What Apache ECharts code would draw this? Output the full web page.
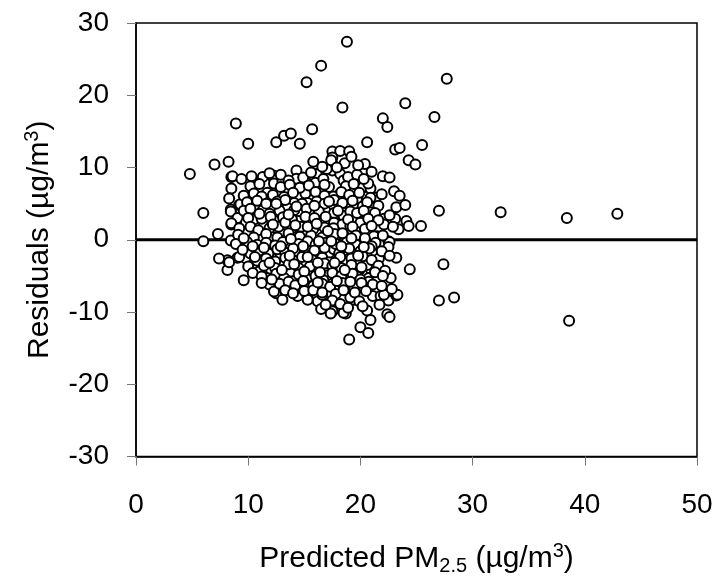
<!DOCTYPE html>
<html>
<head>
<meta charset="utf-8">
<script src="https://cdn.jsdelivr.net/npm/echarts@6/dist/echarts.min.js"></script>
<style>html,body{margin:0;padding:0;background:#fff;}#c{width:717px;height:581px;}</style>
</head>
<body>
<div id="c"></div>
<script>
// [predicted PM2.5, residual]
var points = [
[18.8,27.4],[16.5,24.1],[15.2,21.8],[18.4,18.3],[24.0,18.9],[22.0,16.8],[22.4,15.6],[8.9,16.1],[10.0,13.3],[12.5,13.5],
[13.2,14.4],[13.8,14.7],[14.6,13.3],[15.7,15.3],[20.6,13.5],[25.5,13.1],[23.1,12.5],[23.5,12.7],[24.3,11.0],[24.9,10.4],
[20.4,10.5],[17.5,12.2],[18.2,12.3],[19.0,12.25],[17.5,11.4],[17.5,10.5],[17.5,9.6],[7.0,10.4],[8.25,10.8],[4.8,9.1],
[6.0,3.7],[7.3,0.8],[6.0,-0.2],[25.4,1.9],[8.5,8.7],[8.5,7.1],[8.3,5.7],[8.45,4.2],[9.2,4.8],[8.5,2.1],
[11.3,8.7],[12.2,8.7],[14.3,9.6],[16.1,9.1],[18.2,9.1],[22.0,8.8],[22.6,8.6],[20.2,7.2],[20.9,7.1],[21.35,5.8],
[23.0,6.7],[23.5,6.1],[23.2,4.5],[24.0,4.8],[22.1,2.9],[23.1,2.9],[24.1,2.6],[23.4,1.45],[24.3,1.9],[21.5,0.5],[22.5,-0.2],
[26.6,17.0],[27.7,22.3],[27.0,4.0],[32.5,3.8],[38.4,3.0],[42.9,3.6],[38.6,-11.2],[27.4,-3.4],[24.4,-4.1],[27.0,-8.4],[28.35,-8.0],
[20.7,7.8],[20.9,5.8],[19.7,5.7],[20.2,4.6],[20.9,3.8],[20.3,2.6],[19.6,1.45],[18.5,8.2],[18.1,6.2],[18.7,5.1],
[17.9,4.4],[18.7,3.3],[17.8,2.3],[18.8,1.2],[22.1,2.1],[21.2,0.5],
[22.6,-0.3],[22.5,-1.0],[21.35,-0.4],[20.5,-0.4],[23.2,-2.5],[22.7,-5.3],[21.65,-2.6],[20.9,-4.0],[20.75,-5.3],[21.5,-5.3],
[21.1,-7.8],[21.8,-7.8],[22.5,-8.4],[23.2,-7.7],[20.6,-9.8],[20.9,-11.1],[22.4,-10.3],[22.6,-10.7],[20.0,-12.1],[20.7,-12.9],
[19.0,-13.8],[17.5,-9.9],[18.7,-10.2],[19.4,-8.3],[19.1,-8.0],[17.8,-6.7],[19.3,-6.7],
[8.15,-2.85],[9.05,-2.5],[9.8,-2.6],[8.15,-4.2],[9.6,-5.6],[10.5,-3.3],[11.0,-4.4],[11.7,-5.3],[11.9,-6.2],[12.5,-7.4],
[13.05,-8.3],[13.9,-6.9],[14.7,-6.7],[15.3,-8.0],[16.2,-8.5],[16.5,-9.6],[17.35,-10.2],[16.6,-7.6],[15.6,-4.9],[15.0,-3.1],
[16.2,-4.0],[17.05,-4.9],[17.65,-4.0],[13.8,-4.4],[12.9,-3.5],[12.0,-4.0],[12.0,-1.5],[12.9,-2.2],[13.6,-0.6],[14.4,-1.7],
[15.4,-1.5],[16.5,-1.3],[17.35,-1.9],[11.1,-2.4],[10.2,-1.9],[9.3,-0.4],[8.45,-0.1],
[7.4,-2.6],[8.3,-3.1],[9.2,-2.4],[12.3,-7.15],[14.4,-7.8],[15.3,-8.3],[18.5,-10.1],[22.1,-7.6],[23.3,-7.6],
[8.6,8.8],[9.3,4.9],[8.45,3.9],[9.05,3.0],[8.5,2.3],[9.8,2.35],[10.7,3.3],[11.3,4.1],[12.2,4.4],[12.25,8.9],
[12.3,7.8],[13.05,8.1],[11.7,6.5],[12.75,6.4],[13.6,6.9],[14.3,8.45],[15.3,7.8],[16.0,7.9],[14.4,6.0],[15.1,6.4],
[14.1,5.1],[15.3,5.1],[16.3,6.0],[13.5,4.4],[14.7,3.7],[15.7,3.9],[16.9,4.2],[17.6,4.8],[17.2,7.3],[17.6,6.0],
[10.5,2.8],[11.4,1.9],[12.45,2.6],[13.5,1.9],[14.5,2.6],[15.6,2.35],[16.5,2.8],[17.35,2.6],[9.9,1.0],[11.0,0.5],
[12.0,0.5],[13.05,0.8],[14.1,0.5],[15.1,1.0],[16.2,1.0],[17.05,0.5],[18.1,1.45],
[17.65,5.5],[18.4,5.1],[17.65,3.7],[18.5,3.3],[19.1,3.9],[19.7,3.7],[17.65,2.35],[18.4,2.1],[19.1,1.9],[20.0,2.35],
[17.65,-1.3],[18.5,-1.5],[19.4,-1.7],[17.8,-2.85],[18.7,-3.1],[19.7,-2.85],[20.6,-3.5],[17.95,-4.0],[19.0,-4.4],[19.9,-4.2],
[17.95,-5.3],[18.8,-5.3],[19.7,-5.1],[17.65,-6.7],[19.4,-6.5],[20.3,-6.7],[20.75,-5.8],
[9.4,8.4],[10.3,8.8],[11.9,9.2],[12.9,9.0],[13.6,8.2],[14.9,8.6],[15.6,9.3],[16.7,8.4],[17.0,9.8],[18.9,8.7],
[19.7,9.0],[20.3,8.4],[21.0,9.4],[17.4,11.0],[18.6,10.6],[19.2,11.5],[16.6,10.1],[17.9,10.0],[19.8,10.3],[15.8,10.8],
[10.2,7.4],[11.0,7.7],[12.9,7.3],[13.7,7.6],[14.6,7.2],[15.4,7.5],[16.8,7.6],[18.7,7.4],[19.4,7.7],
[9.6,6.1],[10.5,6.4],[11.2,6.0],[12.2,6.2],[13.2,5.9],[14.0,6.5],[16.0,6.6],[16.8,6.1],[18.3,6.6],[19.0,6.2],[19.9,6.5],[21.9,6.3],
[9.9,5.2],[10.8,5.4],[11.6,5.0],[12.6,5.3],[13.3,5.5],[14.8,5.0],[16.1,5.3],[16.8,5.0],[19.3,5.4],[20.6,5.2],[21.6,4.7],
[9.6,4.0],[10.2,4.3],[11.9,3.6],[12.8,4.0],[14.1,4.1],[15.2,4.3],[16.3,3.9],[18.0,4.0],[20.3,4.0],[21.3,3.7],[22.6,3.4],
[10.0,3.0],[11.2,2.9],[12.0,3.2],[13.1,3.1],[13.9,2.8],[15.1,3.2],[15.9,3.0],[16.9,3.2],[18.9,2.8],[20.7,2.9],[21.6,2.7],
[9.2,1.6],[10.2,1.8],[10.9,1.3],[11.9,1.6],[12.7,1.8],[13.9,1.6],[14.7,1.8],[15.8,1.5],[16.8,1.7],[17.6,1.6],[19.3,1.8],[20.4,1.5],[21.0,1.9],[22.9,1.8],
[9.1,0.7],[10.5,0.3],[11.6,0.8],[12.6,0.3],[13.6,0.9],[14.6,0.4],[15.6,0.6],[16.6,0.3],[17.7,0.8],[18.6,0.4],[19.6,0.6],[20.4,0.2],[22.0,0.6],
[8.9,-0.6],[9.9,-0.3],[10.8,-0.7],[11.6,-0.4],[12.4,-0.8],[13.1,-0.3],[14.5,-0.6],[15.3,-0.2],[16.0,-0.7],[16.9,-0.4],[17.8,-0.6],[18.8,-0.3],[19.6,-0.7],[21.0,-0.9],
[9.5,-1.4],[11.0,-1.5],[11.8,-1.9],[12.6,-1.3],[13.3,-1.8],[14.0,-1.2],[15.0,-1.9],[15.9,-1.5],[16.8,-1.1],[18.1,-1.9],[19.0,-1.2],[20.0,-1.6],[20.8,-1.2],[21.9,-1.6],
[10.8,-2.9],[11.6,-2.6],[12.4,-3.0],[13.3,-2.5],[14.1,-2.9],[14.8,-2.4],[15.7,-2.8],[16.6,-2.5],[17.2,-3.1],[18.2,-2.4],[19.2,-2.6],[20.2,-2.3],[21.0,-2.8],[22.6,-2.2],
[10.0,-3.7],[11.4,-3.6],[12.4,-3.9],[13.6,-3.4],[14.5,-3.9],[15.5,-3.7],[16.8,-3.3],[17.5,-3.6],[18.3,-3.9],[19.2,-3.5],[20.1,-3.8],[21.6,-3.6],[22.2,-4.3],
[10.4,-4.6],[11.2,-5.1],[12.5,-4.7],[13.2,-5.3],[14.5,-4.8],[15.2,-5.4],[16.0,-5.0],[16.7,-5.6],[17.5,-4.6],[18.3,-5.0],[19.3,-4.7],[20.0,-5.5],[21.3,-4.5],[22.0,-5.0],
[11.2,-6.0],[12.8,-6.1],[13.6,-5.8],[14.2,-6.3],[15.0,-6.0],[15.8,-6.4],[16.6,-6.1],[17.3,-6.5],[18.4,-6.0],[19.1,-5.8],[20.1,-6.0],[21.1,-6.2],[21.9,-6.4],
[13.3,-7.0],[14.0,-7.4],[15.0,-7.1],[15.8,-7.0],[16.6,-7.3],[17.8,-7.5],[18.5,-7.0],[19.5,-7.3],[20.5,-7.1],[22.8,-6.8],
[17.5,-8.4],[18.2,-8.9],[19.9,-8.5],[20.2,-9.2],[21.7,-9.0],[18.9,-9.4],[16.9,-9.0],
[12.2,2.1],[13.3,2.4],[14.2,2.0],[15.3,1.8],[16.1,2.2],[17.1,1.2],[18.4,0.9],[19.2,0.2],[13.8,0.1],[12.9,-0.9],
[14.9,-0.9],[16.3,-0.2],[17.4,-0.2],[18.3,-0.9],[19.8,-2.2],[11.4,-1.1],[13.7,-2.2],[15.3,-2.4],[16.2,-3.2],[17.7,-3.2],
[14.1,-3.4],[13.0,-4.2],[15.0,-4.4],[16.4,-4.5],[18.6,-4.2],[12.1,-5.5],[14.9,-5.7],[16.2,-5.9],[17.9,-5.7],[13.6,3.5],
[14.3,4.6],[15.9,4.7],[17.2,5.3],[12.5,5.0],[11.0,3.6],[10.4,-0.9],[9.6,0.2],[10.6,-2.4],[11.9,-3.2],[20.3,-1.0]
];
var zeroLine = [[0,0],[50,0]];
var xTicks = [0,10,20,30,40,50];
var yTicks = [-30,-20,-10,0,10,20,30];

var FONT = '"Liberation Sans", Arial, sans-serif';
var chart = echarts.init(document.getElementById('c'));
chart.setOption({
  animation:false,
  backgroundColor:'#fff',
  grid:{left:136,right:20,top:23,bottom:115,show:true,borderColor:'#000',borderWidth:1.5,backgroundColor:'transparent'},
  xAxis:{
    type:'value',min:xTicks[0],max:xTicks[xTicks.length-1],interval:10,
    axisLine:{show:true,onZero:false,lineStyle:{color:'#000',width:1.5}},
    axisTick:{show:true,inside:false,length:9,lineStyle:{color:'#777',width:1}},
    splitLine:{show:false},
    axisLabel:{color:'#000',fontSize:28,fontFamily:FONT,margin:35},
    name:'{a|Predicted PM}{sub|2.5}{a| (µg/m}{sup|3}{a|)}',
    nameLocation:'middle',nameGap:84,
    nameTextStyle:{rich:{
      a:{fontSize:30,fontFamily:FONT,color:'#000',lineHeight:36},
      sub:{fontSize:20,fontFamily:FONT,color:'#000',padding:[15,0,0,0],lineHeight:36},
      sup:{fontSize:20,fontFamily:FONT,color:'#000',padding:[0,0,15,0],lineHeight:36}
    }}
  },
  yAxis:{
    type:'value',min:yTicks[0],max:yTicks[yTicks.length-1],interval:10,
    axisLine:{show:true,onZero:false,lineStyle:{color:'#000',width:1.5}},
    axisTick:{show:true,inside:false,length:9,lineStyle:{color:'#777',width:1}},
    splitLine:{show:false},
    axisLabel:{color:'#000',fontSize:28,fontFamily:FONT,margin:27},
    name:'{a|Residuals (µg/m}{sup|3}{a|)}',
    nameLocation:'middle',nameGap:78,nameRotate:90,
    nameTextStyle:{rich:{
      a:{fontSize:30,fontFamily:FONT,color:'#000',lineHeight:36},
      sup:{fontSize:20,fontFamily:FONT,color:'#000',padding:[0,0,15,0],lineHeight:36}
    }}
  },
  series:[
    {type:'line',data:zeroLine,symbol:'none',z:1,silent:true,lineStyle:{color:'#000',width:3}},
    {type:'scatter',data:points,z:2,symbol:'circle',symbolSize:10,
     itemStyle:{color:'#fff',borderColor:'#000',borderWidth:2,opacity:1}}
  ]
});
</script>
</body>
</html>
